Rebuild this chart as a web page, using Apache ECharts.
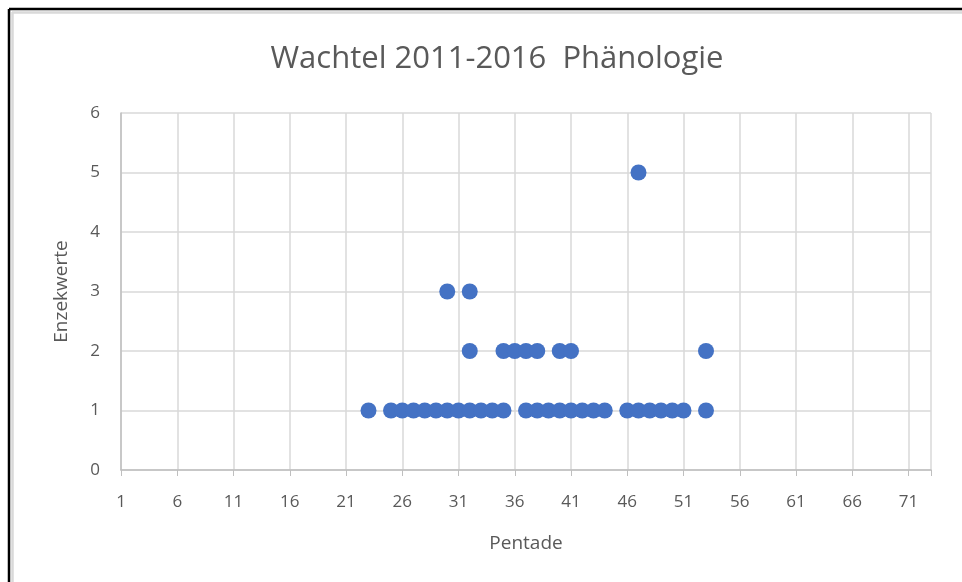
<!DOCTYPE html>
<html>
<head>
<meta charset="utf-8">
<style>
  html, body { margin: 0; padding: 0; background: #fff; }
  #chart { width: 962px; height: 582px; }
</style>
<script src="https://cdn.jsdelivr.net/npm/echarts@6/dist/echarts.min.js"></script>
</head>
<body>
<div id="chart"></div>
<script>
// Pentade / Enzekwerte
const pentadeOnes = [23, 25, 26, 27, 28, 29, 30, 31, 32, 33, 34, 35, 37, 38, 39, 40, 41, 42, 43, 44, 46, 47, 48, 49, 50, 51, 53]
const pentadeTwos = [32, 35, 36, 37, 38, 40, 41, 53]
const pentadeThrees = [30, 32]
const pentadeFives = [47]

const points = []
pentadeOnes.forEach(p => points.push([p, 1]))
pentadeTwos.forEach(p => points.push([p, 2]))
pentadeThrees.forEach(p => points.push([p, 3]))
pentadeFives.forEach(p => points.push([p, 5]))

const textColor = '#595959'
const font = 'Open Sans'

const chart = echarts.init(document.getElementById('chart'))
chart.setOption({
  animation: false,
  title: {
    text: 'Wachtel 2011-2016  Phänologie',
    left: 492,
    top: 39,
    textAlign: 'center',
    textStyle: { color: textColor, fontSize: 31, fontWeight: 'normal', fontFamily: font }
  },
  grid: { left: 121, right: 31, top: 113, bottom: 112 },
  xAxis: {
    type: 'value',
    min: 1,
    max: 73,
    interval: 5,
    name: 'Pentade',
    nameLocation: 'middle',
    nameGap: 64,
    nameTextStyle: { color: textColor, fontSize: 19, fontFamily: font },
    axisLine: { show: true, lineStyle: { color: '#bfbfbf', width: 1.5 } },
    axisTick: { show: true, length: 6, lineStyle: { color: '#bfbfbf' } },
    axisLabel: {
      color: textColor, fontSize: 17, fontFamily: font, margin: 24,
      formatter: v => (v > 71 ? '' : v)
    },
    splitLine: { show: true, lineStyle: { color: '#d9d9d9', width: 1.5 } }
  },
  yAxis: {
    type: 'value',
    min: 0,
    max: 6,
    interval: 1,
    name: 'Enzekwerte',
    nameLocation: 'middle',
    nameGap: 50,
    nameTextStyle: { color: textColor, fontSize: 19, fontFamily: font },
    axisLine: { show: true, lineStyle: { color: '#bfbfbf', width: 1.5 } },
    axisTick: { show: false },
    axisLabel: { color: textColor, fontSize: 17, fontFamily: font, margin: 21 },
    splitLine: { show: true, lineStyle: { color: '#d9d9d9', width: 1.5 } }
  },
  series: [{
    type: 'scatter',
    data: points,
    symbolSize: 16,
    itemStyle: { color: '#4472C4', opacity: 1 }
  }],
  graphic: [
    // Rahmen
    { type: 'line', shape: { x1: 9, y1: 9, x2: 962, y2: 9 }, style: { stroke: '#000', lineWidth: 2.5 } },
    { type: 'line', shape: { x1: 9, y1: 9, x2: 9, y2: 582 }, style: { stroke: '#000', lineWidth: 2.5 } },
    { type: 'line', shape: { x1: 12, y1: 12.5, x2: 962, y2: 12.5 }, style: { stroke: '#d9d9d9', lineWidth: 2.5 } },
    { type: 'line', shape: { x1: 12.5, y1: 12, x2: 12.5, y2: 582 }, style: { stroke: '#d9d9d9', lineWidth: 2.5 } }
  ]
})
</script>
</body>
</html>
